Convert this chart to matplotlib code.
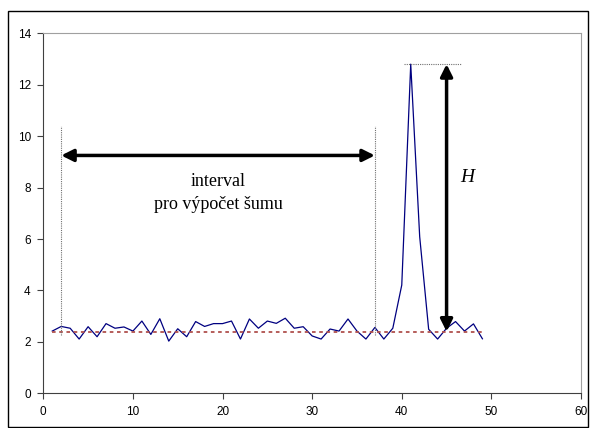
import matplotlib.pyplot as plt
from matplotlib.patches import Rectangle

# signal samples (x = 1..49)
x_vals = list(range(1, 50))
signal = [2.42, 2.6, 2.53, 2.11, 2.59, 2.2, 2.71, 2.53, 2.58, 2.42,
          2.81, 2.29, 2.9, 2.03, 2.51, 2.2, 2.79, 2.6, 2.71, 2.71,
          2.81, 2.11, 2.89, 2.53, 2.81, 2.72, 2.92, 2.53, 2.59, 2.23,
          2.11, 2.5, 2.42, 2.89, 2.42, 2.11, 2.56, 2.11, 2.53, 4.21,
          12.8, 6.09, 2.49, 2.11, 2.53, 2.79, 2.42, 2.7, 2.12]
baseline = 2.4
noise_start, noise_end = 2, 37
peak_x, peak_y = 41, 12.8
h_arrow_x = 45
x_ticks = [0, 10, 20, 30, 40, 50, 60]
y_ticks = [0, 2, 4, 6, 8, 10, 12, 14]

fig = plt.figure(figsize=(5.9, 4.28), dpi=100)
ax = fig.add_axes([43.3 / 590, 1 - 393.3 / 428, (581 - 43.3) / 590, (393.3 - 33.3) / 428])

# outer frame
fig.patches.append(Rectangle((8 / 590, 1 / 428), 580 / 590, 416 / 428,
                             transform=fig.transFigure, fill=False,
                             edgecolor='black', lw=1))

ax.plot(x_vals, signal, color='#000080', lw=0.9)
ax.plot([x_vals[0], x_vals[-1]], [baseline, baseline], color='#B0504D',
        lw=1.3, linestyle=(0, (2, 2)))

# interval markers
for xv in (noise_start, noise_end):
    ax.plot([xv, xv], [2.25, 10.4], color='#707070', lw=0.8, linestyle=(0, (1, 1)))
ax.annotate('', xy=(noise_start, 9.25), xytext=(noise_end, 9.25),
            arrowprops=dict(arrowstyle='<|-|>', color='black', lw=2.5,
                            mutation_scale=18, shrinkA=0, shrinkB=0))
ax.text((noise_start + noise_end) / 2, 7.8, 'interval\npro výpočet šumu',
        ha='center', va='center', fontsize=13, family='Liberation Serif',
        linespacing=1.45)

# peak height
ax.plot([40.2, 46.6], [peak_y, peak_y], color='#707070', lw=0.8, linestyle=(0, (1, 1)))
ax.annotate('', xy=(h_arrow_x, peak_y), xytext=(h_arrow_x, baseline),
            arrowprops=dict(arrowstyle='<|-|>', color='black', lw=2.5,
                            mutation_scale=18, shrinkA=0, shrinkB=0))
ax.text(47.3, 8.4, 'H', ha='center', va='center', fontsize=14,
        family='Liberation Serif', style='italic')

ax.set_xlim(0, 60)
ax.set_ylim(0, 14)
ax.set_xticks(x_ticks)
ax.set_yticks(y_ticks)
for s in ('top', 'right'):
    ax.spines[s].set_color('#A0A0A0')
for s in ('left', 'bottom'):
    ax.spines[s].set_color('#404040')
ax.tick_params(direction='out', length=4, width=0.8, color='#404040',
               labelsize=8.5, pad=5)
for lab in ax.get_xticklabels() + ax.get_yticklabels():
    lab.set_family('Liberation Sans')

fig.savefig('out.png', dpi=100)
